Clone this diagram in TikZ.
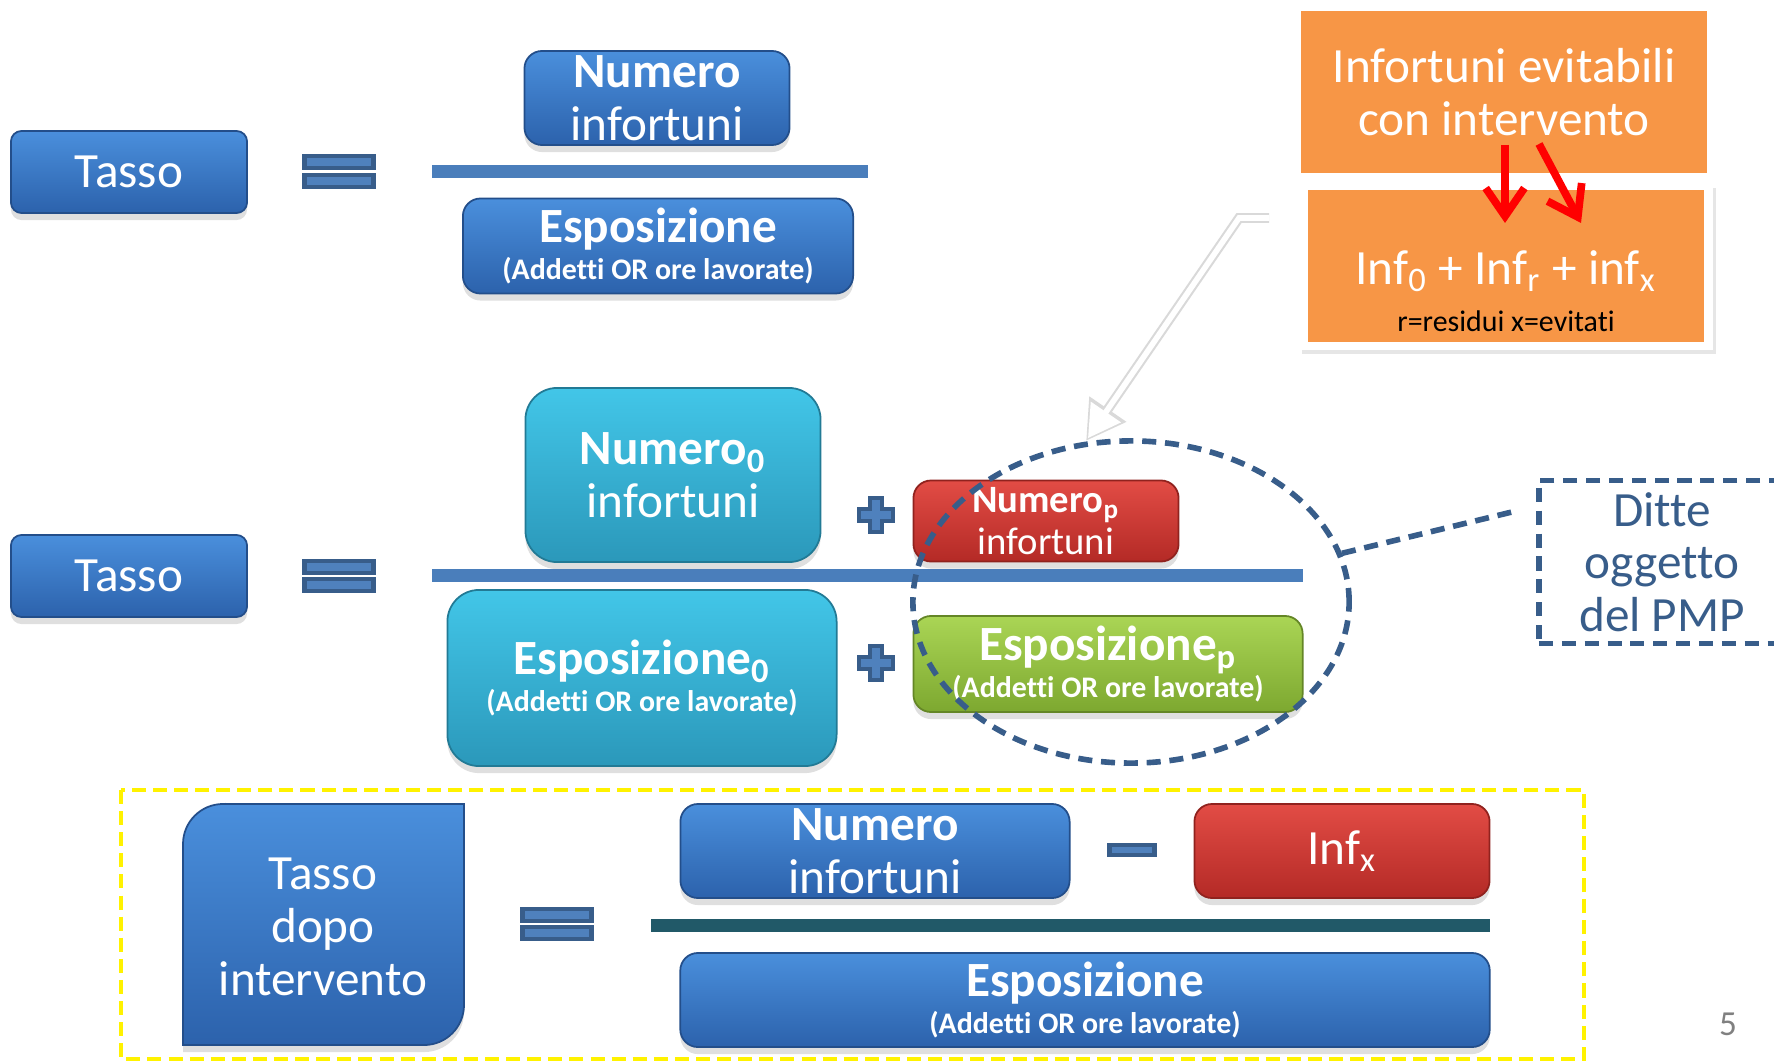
\documentclass[tikz,border=0pt]{standalone}
\usepackage{fontspec}
\setmainfont{Carlito}[Ligatures=CommonOff]
\usepackage{tikz}
\usetikzlibrary{calc}
\usetikzlibrary{shapes.geometric, arrows.meta}
\usetikzlibrary{shadows}

\definecolor{blueTop}{HTML}{4A8FDC}
\definecolor{blueBot}{HTML}{2C62AC}
\definecolor{cyanTop}{HTML}{42C6E8}
\definecolor{cyanBot}{HTML}{2B98BA}
\definecolor{redTop}{HTML}{E24C45}
\definecolor{redBot}{HTML}{B42A26}
\definecolor{greenTop}{HTML}{AAD555}
\definecolor{greenBot}{HTML}{7DA830}
\definecolor{infOrange}{HTML}{F79646}
\definecolor{barBlue}{HTML}{4A7EBB}
\definecolor{barTeal}{HTML}{215968}
\definecolor{pmpBlue}{HTML}{385D8A}
\definecolor{eqBlue}{HTML}{4F81BD}

\newcommand{\bigtext}{\fontsize{14}{15}\selectfont}
\newcommand{\smalltext}{\fontsize{8.5}{10}\selectfont}

\begin{document}
\begin{tikzpicture}[x=0.01cm, y=-0.01cm, font=\bigtext,
    box/.style={text=white, align=center, inner sep=0pt, line width=0.5pt,
        draw=#1Bot!80!black, top color=#1Top, bottom color=#1Bot,
        drop shadow={opacity=0.25, shadow xshift=0pt, shadow yshift=-2pt}},
    bluebox/.style={box=blue, rounded corners=5pt},
    eqbar/.style={draw=pmpBlue, line width=1.4pt, fill=eqBlue, inner sep=0pt,
        minimum width=0.69cm, minimum height=0.12cm},
    plus/.style={draw=pmpBlue, line width=1.4pt, fill=eqBlue},
    pmpdash/.style={pmpBlue, line width=1.6pt, dash pattern=on 4pt off 2.5pt}]

    \useasboundingbox (0,0) rectangle (1774,1061);

    % tasso = numero / esposizione
    \node[bluebox, rounded corners=3pt, minimum width=2.36cm, minimum height=0.82cm] (tasso) at (129,172) {Tasso};
    \node[eqbar] (eqa) at (339,162) {};
    \node[eqbar] (eqb) at (339,181) {};
    \fill[barBlue] (432,165) rectangle (868,178);
    \node[bluebox, minimum width=2.65cm, minimum height=0.94cm] (num) at (657,98) {\textbf{Numero}\\infortuni};
    \node[bluebox, minimum width=3.90cm, minimum height=0.95cm] (esp) at (658,246) {\textbf{Esposizione}\\[-4.5pt]\smalltext\bfseries (Addetti OR ore lavorate)};

    % infortuni evitabili
    \node[fill=infOrange, minimum width=4.05cm, minimum height=1.62cm, text=white, align=center] (evit) at (1504,92) {Infortuni evitabili\\con intervento};
    \node[fill=white, minimum width=4.14cm, minimum height=1.66cm, drop shadow={opacity=0.2, shadow xshift=0.8pt, shadow yshift=-1.2pt}] (frame) at (1506,267) {};
    \fill[infOrange] (1308,190) rectangle (1704,342);
    \node[text=white, align=center] (inftxt) at (1506,291) {Inf\textsubscript{0} + Inf\textsubscript{r} + inf\textsubscript{x}\\[-1.5pt]{\color{black}\smalltext r=residui x=evitati}};

    \coordinate (r1a) at (1505,145);
    \coordinate (r1b) at (1505,223);
    \coordinate (r2a) at (1539,144);
    \coordinate (r2b) at (1581,223);
    \draw[red, line width=2.2pt, -{Straight Barb[length=8pt, width=11pt]}] (r1a) -- (r1b);
    \draw[red, line width=2.2pt, -{Straight Barb[length=8pt, width=11pt]}] (r2a) -- (r2b);

    % tasso = (numero0 + numerop) / (esposizione0 + esposizionep)
    \node[bluebox, rounded corners=3pt, minimum width=2.36cm, minimum height=0.82cm] (tasso2) at (129,576) {Tasso};
    \node[eqbar] (eqc) at (339,567) {};
    \node[eqbar] (eqd) at (339,585) {};
    \fill[barBlue] (432,569) rectangle (1303,582);
    \node[box=cyan, rounded corners=9pt, minimum width=2.95cm, minimum height=1.74cm] (num0) at (673,475) {\textbf{Numero\textsubscript{0}}\\infortuni};
    \node[box=cyan, rounded corners=9pt, minimum width=3.89cm, minimum height=1.76cm] (esp0) at (642,678) {\textbf{Esposizione\textsubscript{0}}\\[-4.5pt]\smalltext\bfseries (Addetti OR ore lavorate)};
    \draw[plus] (876,515) ++(-6,-17) -- ++(12,0) -- ++(0,11) -- ++(11,0) -- ++(0,12) -- ++(-11,0) -- ++(0,11) -- ++(-12,0) -- ++(0,-11) -- ++(-11,0) -- ++(0,-12) -- ++(11,0) -- cycle;
    \draw[plus] (876,663) ++(-6,-17) -- ++(12,0) -- ++(0,11) -- ++(11,0) -- ++(0,12) -- ++(-11,0) -- ++(0,11) -- ++(-12,0) -- ++(0,-11) -- ++(-11,0) -- ++(0,-12) -- ++(11,0) -- cycle;
    \node[box=red, rounded corners=5pt, minimum width=2.65cm, minimum height=0.81cm, font=\fontsize{11}{12}\selectfont] (nump) at (1046,521) {\textbf{Numero\textsubscript{p}}\\infortuni};
    \node[box=green, rounded corners=5pt, minimum width=3.89cm, minimum height=0.96cm] (espp) at (1108,664) {\textbf{Esposizione\textsubscript{p}}\\[-4.5pt]\smalltext\bfseries (Addetti OR ore lavorate)};

    \node[ellipse, draw, pmpdash, minimum width=4.36cm, minimum height=3.22cm, inner sep=0pt] (pmp) at (1131,602) {};
    \node[draw, pmpdash, minimum width=2.46cm, minimum height=1.62cm, text=pmpBlue, align=center] (ditte) at (1662,562) {Ditte\\oggetto\\del PMP};
    \coordinate (dEnd) at (1516,511);
    \draw[pmpdash] (pmp.13) -- (dEnd);

    \coordinate (wa) at (1269,218);
    \coordinate (wb) at (1239,218);
    \coordinate (wc) at (1086,441);
    \draw[gray!30, line width=2.8pt, -{Triangle[length=11pt, width=12pt]}] (wa) -- (wb) -- (wc);
    \draw[white, line width=1.6pt, shorten >=1pt, -{Triangle[length=9pt, width=10pt]}] (wa) -- (wb) -- (wc);

    % tasso dopo intervento
    \draw[yellow, line width=1.2pt, dash pattern=on 4pt off 2pt] (121,790) rectangle (1584,1059);
    \shade[top color=blueTop, bottom color=blueBot, draw=blueBot!80!black, line width=0.5pt, drop shadow={opacity=0.25, shadow xshift=0pt, shadow yshift=-2pt}] (223,804) -- (464,804) -- (464,1005) arc[start angle=0, end angle=-90, radius=0.4cm] -- (183,1045) -- (183,844) arc[start angle=180, end angle=90, radius=0.4cm] -- cycle;
    \node[text=white, align=center] (dopo) at (323,927) {Tasso\\dopo\\intervento};
    \node[eqbar] (eqe) at (557,915) {};
    \node[eqbar] (eqf) at (557,933) {};
    \node[bluebox, minimum width=3.89cm, minimum height=0.94cm] (num3) at (875,851) {\textbf{Numero}\\infortuni};
    \node[eqbar, minimum width=0.45cm, minimum height=0.10cm] (minus) at (1132,850) {};
    \node[box=red, rounded corners=5pt, minimum width=2.95cm, minimum height=0.94cm] (infx) at (1342,851) {Inf\textsubscript{x}};
    \fill[barTeal] (651,919) rectangle (1490,932);
    \node[bluebox, minimum width=8.09cm, minimum height=0.94cm] (esp3) at (1085,1000) {\textbf{Esposizione}\\[-4.5pt]\smalltext\bfseries (Addetti OR ore lavorate)};

    \node[text=gray, font=\fontsize{10}{12}\selectfont] (page) at (1728,1024) {5};

\end{tikzpicture}
\end{document}
